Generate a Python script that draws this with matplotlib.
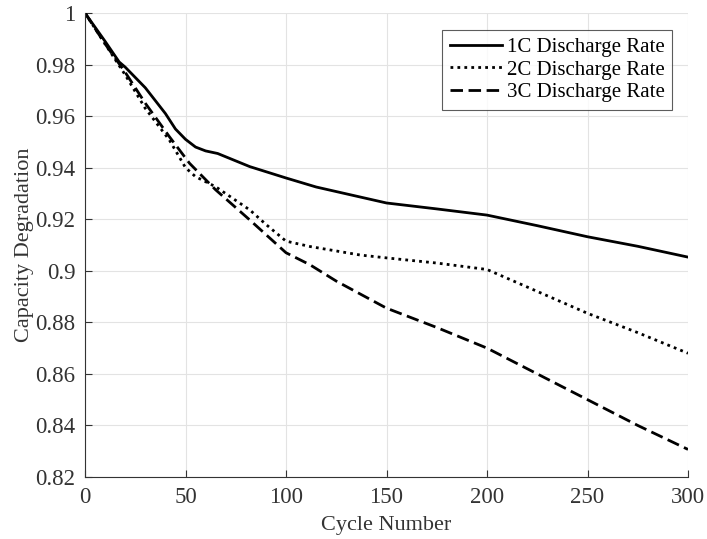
import matplotlib.pyplot as plt

plt.rcParams['font.family'] = ['Liberation Serif', 'DejaVu Serif']

# cycle numbers and capacity readings for each discharge rate
cycles_1c = [0, 10, 17, 20, 25, 30, 35, 40, 45, 50, 55, 60, 66, 82, 100,
             115, 137, 150, 175, 200, 225, 250, 275, 300]
cap_1c = [1.0, 0.989, 0.981, 0.979, 0.975, 0.971, 0.966, 0.961, 0.955, 0.951,
          0.948, 0.9465, 0.9455, 0.9404, 0.936, 0.9325, 0.9286, 0.9263, 0.924,
          0.9216, 0.9175, 0.9132, 0.9095, 0.9053]

cycles_2c = [0, 10, 20, 30, 42, 50, 55, 65, 82, 90, 100, 112, 137, 150, 175, 200,
             225, 250, 275, 300]
cap_2c = [1.0, 0.988, 0.976, 0.963, 0.9507, 0.940, 0.9365, 0.9326, 0.9236, 0.918,
          0.9115, 0.9094, 0.9061, 0.905, 0.903, 0.9005, 0.892, 0.8835, 0.876, 0.868]

cycles_3c = [0, 10, 20, 30, 42, 52, 65, 82, 100, 112, 125, 150, 175, 200,
             225, 250, 275, 300]
cap_3c = [1.0, 0.988, 0.977, 0.965, 0.952, 0.9417, 0.9314, 0.9197, 0.907, 0.9023,
          0.896, 0.8855, 0.878, 0.870, 0.860, 0.850, 0.840, 0.8307]

labels = ['1C Discharge Rate', '2C Discharge Rate', '3C Discharge Rate']

fig = plt.figure(figsize=(7.07, 5.39), dpi=100)
ax = fig.add_axes([85 / 707, 62 / 539, 603 / 707, 464 / 539])

ax.plot(cycles_1c, cap_1c, color='black', linewidth=2.0, linestyle='-', label=labels[0])
ax.plot(cycles_2c, cap_2c, color='black', linewidth=2.0, linestyle=(0, (1, 1.5)), label=labels[1])
ax.plot(cycles_3c, cap_3c, color='black', linewidth=2.0, linestyle=(0, (4.5, 2)), label=labels[2])

ax.set_xlim(0, 300)
ax.set_ylim(0.82, 1.0)
ax.set_xticks([0, 50, 100, 150, 200, 250, 300])
ax.set_yticks([0.82, 0.84, 0.86, 0.88, 0.9, 0.92, 0.94, 0.96, 0.98, 1.0])
ax.set_yticklabels(['0.82', '0.84', '0.86', '0.88', '0.9', '0.92', '0.94', '0.96', '0.98', '1'])
ax.tick_params(direction='in', length=5, width=0.8, colors='#333333', labelsize=16.5, pad=7)
ax.grid(True, color='#e3e3e3', linewidth=0.8)
ax.set_axisbelow(True)

for side in ['top', 'right']:
    ax.spines[side].set_visible(False)
for side in ['left', 'bottom']:
    ax.spines[side].set_color('#333333')
    ax.spines[side].set_linewidth(0.8)

ax.set_xlabel('Cycle Number', fontsize=16, color='#333333', labelpad=6)
ax.set_ylabel('Capacity Degradation', fontsize=16, color='#333333', labelpad=1)

leg = ax.legend(loc='upper right', bbox_to_anchor=(0.9735, 0.963), fontsize=15,
                frameon=True, fancybox=False, handlelength=2.5, handletextpad=0.25,
                borderpad=0.35, labelspacing=0.15, borderaxespad=0)
leg.get_frame().set_edgecolor('#333333')
leg.get_frame().set_linewidth(0.8)

fig.savefig('out.png', dpi=100)
